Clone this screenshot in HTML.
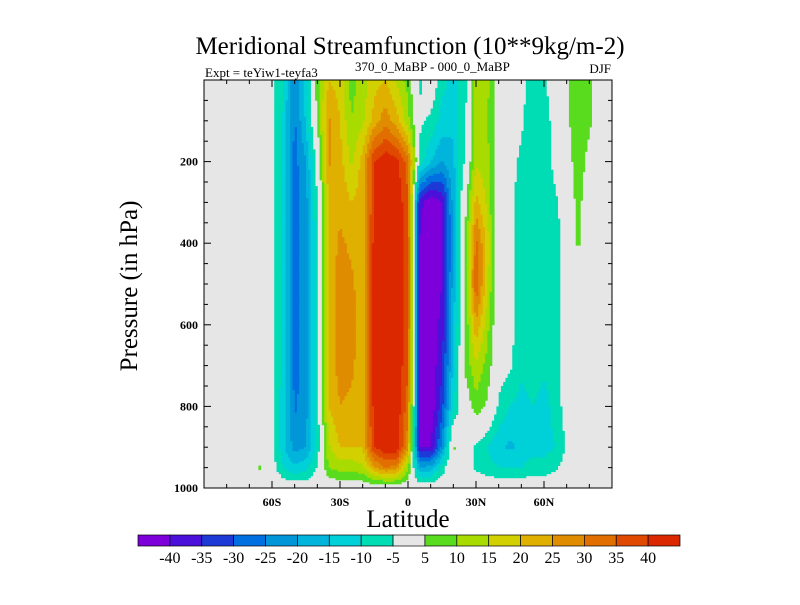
<!DOCTYPE html>
<html><head><meta charset="utf-8"><style>
html,body{margin:0;padding:0;background:#fff;}
svg text{font-family:"Liberation Serif",serif;fill:#000;}
</style></head><body>
<svg id="chart" width="800" height="600" viewBox="0 0 800 600" xmlns="http://www.w3.org/2000/svg">
<text x="410" y="54" font-size="25" text-anchor="middle">Meridional Streamfunction (10**9kg/m-2)</text>
<text x="205" y="77" font-size="13">Expt = teYiw1-teyfa3</text>
<text x="355" y="71" font-size="13">370_0_MaBP - 000_0_MaBP</text>
<text x="611" y="73" font-size="13" text-anchor="end">DJF</text>
<text transform="translate(137,286) rotate(-90)" font-size="25" text-anchor="middle">Pressure (in hPa)</text>
<text x="408" y="527" font-size="25" text-anchor="middle">Latitude</text>
<g id="field"></g>
<g id="axes"></g>
<g id="cbar"></g>
</svg>
<script>
const lats=[-90,-85,-80,-75,-70,-65,-60,-55,-50,-45,-40,-35,-30,-25,-20,-15,-10,-5,0,5,10,15,20,25,30,35,40,45,50,55,60,65,70,75,80,85,90];
const levels=[0,100,200,300,400,500,600,700,800,900,950,1000];
const row0   =[0,0,0,0,0,0,-3,-10,-25,-12,8,20,18,8,12,18,20,14,8,-6,0,-8,-12,-8,12,12,0,-3,-2,-8,-6,0,4,8,7,0,0];
const row100 =[0,0,0,0,0,0,-3,-11,-26,-14,6,26,20,10,14,22,28,22,12,-4,-6,-12,-14,-6,12,10,0,-4,-4,-10,-8,-2,4,8,6,0,0];
const row200 =[0,0,0,0,0,0,-4,-12,-27,-20,-2,26,22,14,22,40,44,42,32,-6,-15,-20,-16,-4,14,12,0,-3,-6,-8,-8,-3,2,8,3,0,0];
const row300 =[0,0,0,0,0,0,-4,-12,-28,-22,-4,20,24,20,22,40,44,44,36,-38,-44,-40,-18,2,22,14,-2,-3,-8,-6,-9,-6,0,7,0,0,0];
const row400 =[0,0,0,0,0,0,-4,-12,-27,-22,-6,22,26,24,22,42,44,44,38,-40,-44,-40,-20,4,32,18,-2,-3,-8,-6,-8,-8,-2,6,0,0,0];
const row500 =[0,0,0,0,0,0,-4,-12,-27,-22,-6,22,27,26,22,42,44,44,38,-40,-44,-40,-18,4,35,16,-2,-3,-8,-6,-8,-8,-2,0,0,0,0];
const row600 =[0,0,0,0,0,0,-4,-12,-27,-22,-6,22,28,28,22,42,44,44,38,-40,-44,-38,-16,4,24,12,-2,-3,-8,-6,-8,-8,-2,0,0,0,0];
const row700 =[0,0,0,0,0,0,-4,-12,-27,-22,-6,22,27,26,22,42,44,44,36,-42,-44,-36,-14,6,14,8,-2,-4,-9,-7,-9,-8,-2,0,0,0,0];
const row800 =[0,0,0,0,0,0,-4,-13,-26,-22,-7,20,25,24,22,42,44,44,32,-42,-44,-32,-10,0,8,4,-6,-10,-12,-10,-12,-8,-2,0,0,0,0];
const row900 =[0,0,0,0,0,0,-3,-14,-22,-20,-8,14,20,20,20,40,44,44,26,-40,-40,-24,6,-2,-6,-10,-14,-16,-14,-12,-12,-10,-4,0,0,0,0];
const row950 =[0,0,0,0,0,6,-2,-10,-14,-12,-4,10,12,12,14,24,30,28,10,-20,-18,-8,4,-2,-6,-8,-10,-10,-10,-8,-8,-6,-2,0,0,0,0];
const row1000=[0,0,0,0,0,0,0,0,0,0,0,0,0,0,0,0,0,0,0,0,0,0,0,0,0,0,0,0,0,0,0,0,0,0,0,0,0];
const grid=[row0,row100,row200,row300,row400,row500,row600,row700,row800,row900,row950,row1000];
const cbLabels=["-40","-35","-30","-25","-20","-15","-10","-5","5","10","15","20","25","30","35","40"];
const cbBounds=[-40,-35,-30,-25,-20,-15,-10,-5,5,10,15,20,25,30,35,40];
const colors=["#7d00db","#4b10d9","#1e3ad6","#0070e0","#0096d8","#00b4dc","#00d0d8","#00dcb4","#e6e6e6","#5adc1e","#a8dc00","#d2d000","#e0b000","#e08c00","#e06e00","#e04a00","#dc2800"];
const tickLabelsY=["200","400","600","800","1000"];
const tickLabelsX=["60S","30S","0","30N","60N"];

const NS="http://www.w3.org/2000/svg";
const X0=204,X1=612,Y0=80,Y1=488;
function xs(lat){return X0+(lat+90)/180*(X1-X0);}
function ys(p){return Y0+p/1000*(Y1-Y0);}
function mk(tag,attrs,parent){const e=document.createElementNS(NS,tag);for(const k in attrs)e.setAttribute(k,attrs[k]);parent.appendChild(e);return e;}
function colorOf(v){let i=0;while(i<cbBounds.length&&v>=cbBounds[i])i++;return colors[i];}
function sample(lat,p){
  let i=Math.min(lats.length-2,Math.max(0,Math.floor((lat-lats[0])/5)));
  let tx=(lat-lats[i])/(lats[i+1]-lats[i]);
  let j=0;while(j<levels.length-2&&p>levels[j+1])j++;
  let ty=(p-levels[j])/(levels[j+1]-levels[j]);
  const a=grid[j][i],b=grid[j][i+1],c=grid[j+1][i],d=grid[j+1][i+1];
  return (a*(1-tx)+b*tx)*(1-ty)+(c*(1-tx)+d*tx)*ty;
}
const field=document.getElementById('field');
const bg=mk('rect',{x:X0,y:Y0,width:X1-X0,height:Y1-Y0,fill:"#e6e6e6"},field);


const dLat=1,dP=5;
for(let p=0;p<1000;p+=dP){
  let runStart=-90,runCol=null;
  for(let lat=-90;lat<=90;lat+=dLat){
    const c=lat<90?colorOf(sample(lat+dLat/2,p+dP/2)):null;
    if(c!==runCol){
      if(runCol&&runCol!=="#e6e6e6"){
        const r=mk('rect',{x:xs(runStart),y:ys(p),width:xs(lat)-xs(runStart)+0.4,height:ys(p+dP)-ys(p)+0.4,fill:runCol},field);
        
        
      }
      runStart=lat;runCol=c;
    }
  }
}
const axes=document.getElementById('axes');
const frame=mk('rect',{x:X0,y:Y0,width:X1-X0,height:Y1-Y0,fill:"none",stroke:"#000","stroke-width":1},axes);


for(let p=50;p<1000;p+=50){
  const L=(p%200===0)?7:4;
  mk('line',{x1:X0,y1:ys(p),x2:X0+L,y2:ys(p),stroke:"#000"},axes);
  mk('line',{x1:X1,y1:ys(p),x2:X1-L,y2:ys(p),stroke:"#000"},axes);
}
tickLabelsY.forEach((t,k)=>{
  const el=mk('text',{x:X0-6,y:ys(+t)+4,"font-size":12,"font-weight":"bold","text-anchor":"end"},axes);el.textContent=t;
  
  
});
for(let lat=-80;lat<=80;lat+=10){
  const L=(lat%30===0)?7:4;
  mk('line',{x1:xs(lat),y1:Y1,x2:xs(lat),y2:Y1-L,stroke:"#000"},axes);
  mk('line',{x1:xs(lat),y1:Y0,x2:xs(lat),y2:Y0+L,stroke:"#000"},axes);
}
const tickLatX=[-60,-30,0,30,60];
tickLabelsX.forEach((t,k)=>{
  const el=mk('text',{x:xs(tickLatX[k]),y:Y1+18,"font-size":12,"font-weight":"bold","text-anchor":"middle"},axes);el.textContent=t;
  
  
});
const cb=document.getElementById('cbar');
const CX0=138,CX1=680,CY=535,CH=11,bw=(CX1-CX0)/colors.length;
colors.forEach((c,k)=>{
  const r=mk('rect',{x:CX0+k*bw,y:CY,width:bw,height:CH,fill:c,stroke:"#000","stroke-width":0.7},cb);
  
  
});
cbLabels.forEach((t,k)=>{
  const el=mk('text',{x:CX0+(k+1)*bw,y:563,"font-size":16,"text-anchor":"middle"},cb);el.textContent=t;
  
  
});
</script>
</body></html>
